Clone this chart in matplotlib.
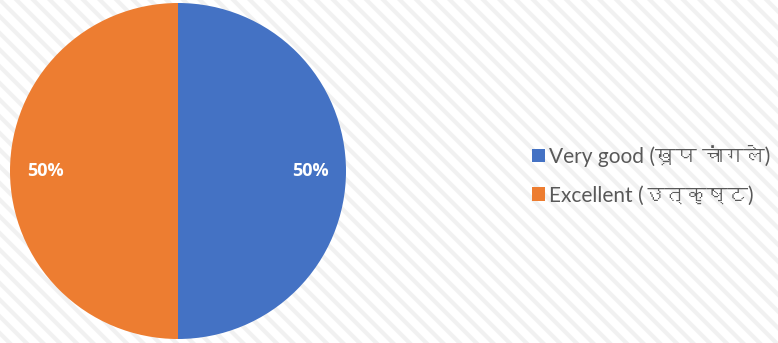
import matplotlib
matplotlib.use('Agg')
import matplotlib.pyplot as plt
from matplotlib import font_manager
from matplotlib.patches import Rectangle, Patch
from fontTools.ttLib import TTFont

# data
categories = ['Very good (खूप चांगले)', 'Excellent (उत्कृष्ट)']
shares = [50, 50]
colors = ['#4472C4', '#ED7D31']


def find_devanagari_family():
    # look for any installed font that actually has Devanagari glyphs
    for f in font_manager.fontManager.ttflist:
        try:
            tt = TTFont(f.fname, fontNumber=0, lazy=True)
            cmap = tt.getBestCmap()
            if cmap and 0x0916 in cmap and 0x091A in cmap:
                return f.name
        except Exception:
            continue
    return None


deva = find_devanagari_family()
families = ['Lato']
if deva:
    families.append(deva)
families.append('DejaVu Sans')
plt.rcParams['font.family'] = families
plt.rcParams['hatch.linewidth'] = 3.0

fig = plt.figure(figsize=(7.78, 3.43), dpi=100)
fig.patch.set_facecolor('white')

# faint diagonal stripes in the background
bg = Rectangle((0, 0), 1, 1, transform=fig.transFigure, facecolor='white',
               edgecolor='#f1f1f1', hatch='\\\\', linewidth=0, zorder=-10)
fig.patches.append(bg)

W, H = 778, 343
cx, cy, r = 178, 171, 168
ax = fig.add_axes([(cx - r) / W, (H - cy - r) / H, 2 * r / W, 2 * r / H])
ax.set_facecolor('none')

wedges, texts, autotexts = ax.pie(shares, colors=colors, startangle=90, counterclock=False,
                                  autopct='%d%%', pctdistance=0.79,
                                  wedgeprops=dict(linewidth=0),
                                  textprops=dict(color='white', fontsize=13, fontweight='bold',
                                                 family=['Open Sans', 'DejaVu Sans']))
ax.set_aspect('equal')
ax.set_xlim(-1, 1)
ax.set_ylim(-1, 1)
ax.axis('off')

handles = [Patch(facecolor=c, edgecolor='none') for c in colors]
leg = fig.legend(handles, categories, loc='center left', bbox_to_anchor=(524 / W, 1 - 175 / H),
                 frameon=False, fontsize=15, handlelength=0.6, handleheight=0.6,
                 handletextpad=0.2, labelspacing=0.9, borderaxespad=0)
for t in leg.get_texts():
    t.set_color('#595959')

fig.savefig('out.png', dpi=100, facecolor=fig.get_facecolor())
